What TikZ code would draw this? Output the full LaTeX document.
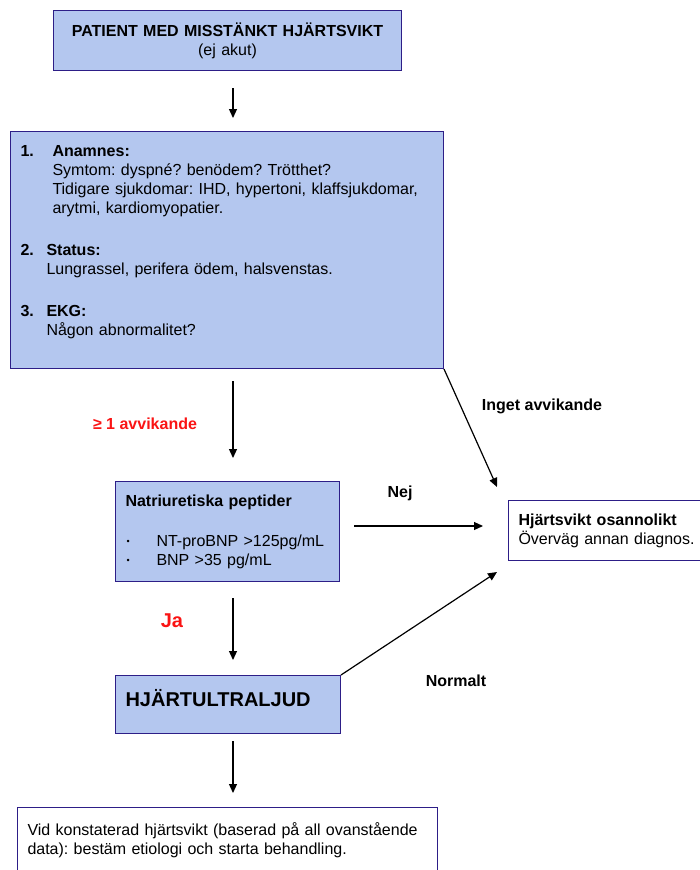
\documentclass[tikz,border=0pt]{standalone}
\usepackage{fontspec}
\setmainfont{Liberation Sans}
\usetikzlibrary{arrows.meta, positioning}
\frenchspacing

\definecolor{boxfill}{RGB}{180,199,239}
\definecolor{boxline}{RGB}{45,30,135}
\definecolor{alarm}{RGB}{250,20,20}

\newcommand{\dotitem}{\makebox[31pt][l]{\hspace{1pt}\raisebox{2pt}{\fontsize{9}{9}\selectfont\textbullet}}}

\begin{document}
\begin{tikzpicture}[
    x=1pt, y=-1pt,
    box/.style={draw=boxline, fill=boxfill, line width=1pt, anchor=north west,
        inner xsep=10pt, inner ysep=0pt, align=left, font=\fontsize{16}{19}\selectfont},
    plainbox/.style={box, fill=white},
    edge/.style={-{Triangle[length=9pt, width=8pt]}, line width=1.2pt},
    tag/.style={font=\fontsize{16}{19}\selectfont\bfseries}
]
    \useasboundingbox (0,0) rectangle (700,870);

    \node[box, text width=328pt, minimum height=60pt, align=center] (start) at (53,10)
        {\textbf{PATIENT MED MISSTÄNKT HJÄRTSVIKT}\\(ej akut)};
    \node[box, text width=413pt, minimum height=237pt] (assess) at (10,131)
        {\makebox[32pt][l]{\bfseries 1.}\textbf{Anamnes:}\\
         \hspace*{32pt}Symtom: dyspné? benödem? Trötthet?\\
         \hspace*{32pt}Tidigare sjukdomar: IHD, hypertoni, klaffsjukdomar,\\
         \hspace*{32pt}arytmi, kardiomyopatier.\\[23pt]
         \makebox[26pt][l]{\bfseries 2.}\textbf{Status:}\\
         \hspace*{26pt}Lungrassel, perifera ödem, halsvenstas.\\[23pt]
         \makebox[26pt][l]{\bfseries 3.}\textbf{EKG:}\\
         \hspace*{26pt}Någon abnormalitet?\\\mbox{}};
    \node[box, text width=204pt, minimum height=100pt] (bnp) at (115,481)
        {\textbf{Natriuretiska peptider}\\[21pt]
         \dotitem NT-proBNP >125pg/mL\\
         \dotitem BNP >35 pg/mL};
    \node[plainbox, text width=195pt, minimum height=60pt] (unlikely) at (508,500)
        {\textbf{Hjärtsvikt osannolikt}\\Överväg annan diagnos.};
    \node[box, text width=205pt, minimum height=58pt, text depth=14pt,
        font=\fontsize{20}{24}\selectfont\bfseries] (echo) at (115,675) {HJÄRTULTRALJUD};
    \node[plainbox, text width=400pt, minimum height=66pt] (result) at (17,807)
        {Vid konstaterad hjärtsvikt (baserad på all ovanstående\\
         data): bestäm etiologi och starta behandling.};

    % labels
    \node[tag, text=alarm] (more) at (145,424) {≥ 1 avvikande};
    \node[tag] (none) at (542,406) {Inget avvikande};
    \node[tag] (no) at (400,493) {Nej};
    \node[tag] (normal) at (456,681) {Normalt};
    \node[tag, text=alarm, font=\fontsize{20}{24}\selectfont\bfseries] (yes) at (172,621) {Ja};

    % connectors
    \coordinate (spine) at (233,0);
    \coordinate (nejrow) at (0,526);
    \coordinate (tipA) at (497,487);
    \coordinate (tipB) at (497,572);
    \draw[edge, shorten <=17pt, shorten >=13pt] (start.south -| spine) -- (assess.north -| spine);
    \draw[edge, shorten <=12pt, shorten >=23pt] (assess.south -| spine) -- (bnp.north -| spine);
    \draw[edge, shorten <=16pt, shorten >=15pt] (bnp.south -| spine) -- (echo.north -| spine);
    \draw[edge, shorten <=7pt, shorten >=14pt] (echo.south -| spine) -- (result.north -| spine);
    \draw[edge, shorten <=14pt, shorten >=25pt] (bnp.east |- nejrow) -- (unlikely.west |- nejrow);
    \draw[edge] (assess.south east) -- (tipA);
    \draw[edge] (echo.north east) -- (tipB);
\end{tikzpicture}
\end{document}
